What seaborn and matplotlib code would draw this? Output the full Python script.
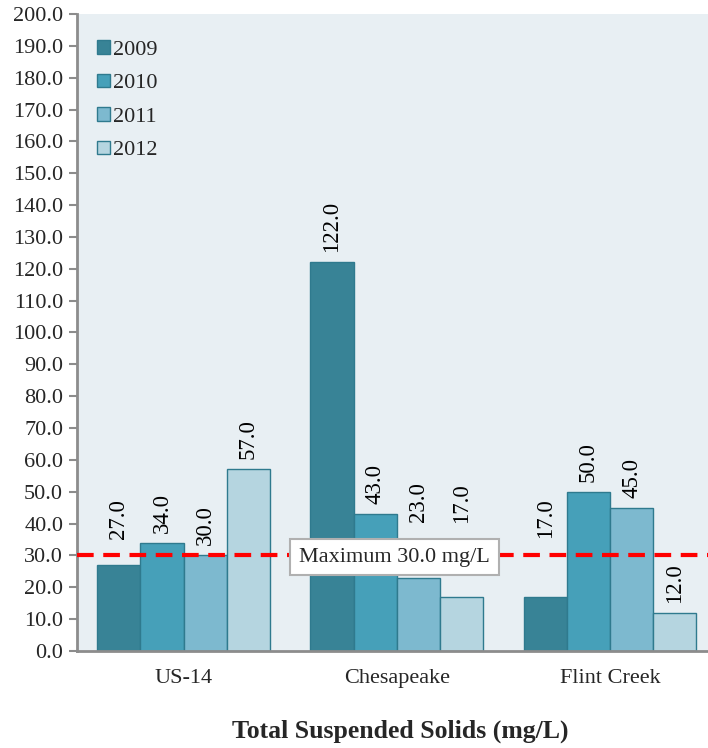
import matplotlib
matplotlib.use("Agg")
import matplotlib.pyplot as plt
from matplotlib.patches import Patch
import seaborn as sns
import pandas as pd

sites = ["US-14", "Chesapeake", "Flint Creek"]
years = ["2009", "2010", "2011", "2012"]
v2009 = [27.0, 122.0, 17.0]
v2010 = [34.0, 43.0, 50.0]
v2011 = [30.0, 23.0, 45.0]
v2012 = [57.0, 17.0, 12.0]
max_limit = 30.0
limit_label = "Maximum 30.0 mg/L"
yticks = list(range(0, 201, 10))
xlabel = "Total Suspended Solids (mg/L)"

# label lift (data units) so labels clear the limit box
lift2009 = [32.0, 0.0, 32.3]
lift2010 = [0.0, 0.0, 0.0]
lift2011 = [0.0, 37.4, 0.0]
lift2012 = [0.0, 37.0, 0.0]

colors = ["#388396", "#46A0B9", "#7DB9CF", "#B5D5E0"]
edge = "#2F7A8E"

rows = []
for y, vals in zip(years, [v2009, v2010, v2011, v2012]):
    for s, v in zip(sites, vals):
        rows.append({"site": s, "year": y, "value": v})
df = pd.DataFrame(rows)

sns.set_theme(style="white")
plt.rcParams["font.family"] = ["Liberation Serif", "DejaVu Serif"]

fig = plt.figure(figsize=(7.08, 7.48), dpi=100)
ax = fig.add_axes([0.1088, 0.1297, 0.8912, 0.8516])
ax.set_facecolor("#E8EFF3")

sns.barplot(data=df, x="site", y="value", hue="year", order=sites, hue_order=years,
            palette=colors, width=0.81, edgecolor=edge, linewidth=1.0, ax=ax,
            legend=False, saturation=1)

lifts = [lift2009, lift2010, lift2011, lift2012]
for ci, cont in enumerate(ax.containers):
    for bi, bar in enumerate(cont):
        v = bar.get_height()
        base = max(v, lifts[ci][bi])
        ax.annotate(f"{v:.1f}", (bar.get_x() + bar.get_width() / 2, base),
                    xytext=(0, 7.2), textcoords="offset points", rotation=90,
                    ha="center", va="bottom", fontsize=16.5, color="black")

ax.axhline(max_limit, color="#FF0000", linestyle=(0, (4, 2.3)), linewidth=3, zorder=3)
ax.text(0.99, max_limit - 0.5, limit_label, ha="center", va="center", fontsize=16,
        zorder=5, bbox=dict(boxstyle="square,pad=0.4", facecolor="white",
                            edgecolor="#B0B0B0", linewidth=1.5))

ax.set_ylim(0, 200)
ax.set_xlim(-0.5, 2.46)
ax.set_yticks(yticks)
ax.set_yticklabels([f"{t:.1f}" for t in yticks], fontsize=16)
ax.set_xticks(range(len(sites)))
ax.set_xticklabels(sites, fontsize=16)
ax.tick_params(axis="y", length=6, width=1.5, color="#8C8C8C", left=True, pad=4)
ax.tick_params(axis="x", length=0, pad=13)
for s in ["top", "right"]:
    ax.spines[s].set_visible(False)
for s in ["left", "bottom"]:
    ax.spines[s].set_color("#8C8C8C")
    ax.spines[s].set_linewidth(2)
ax.set_xlabel("")
ax.set_ylabel("")

handles = [Patch(facecolor=c, edgecolor=edge, linewidth=1) for c in colors]
ax.legend(handles, years, loc="upper left", bbox_to_anchor=(0.018, 0.973), frameon=False,
          fontsize=16, handlelength=0.58, handleheight=0.58, handletextpad=0.15,
          labelspacing=0.62, borderaxespad=0)

fig.text(0.566, 0.022, xlabel, ha="center", va="center", fontsize=18.5, fontweight="bold")

fig.savefig("out.png", dpi=100)
